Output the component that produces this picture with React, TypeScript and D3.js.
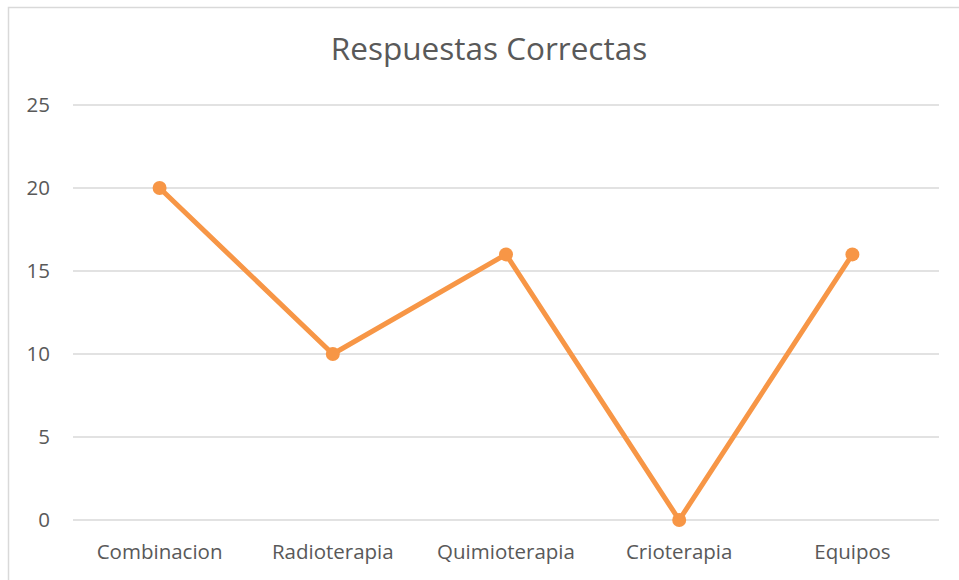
import React from "react";
import * as d3 from "d3";

const categories = ["Combinacion", "Radioterapia", "Quimioterapia", "Crioterapia", "Equipos"];
const values = [20, 10, 16, 0, 16];
const yTicks = [0, 5, 10, 15, 20, 25];
const title = "Respuestas Correctas";

export default function App() {
  const W = 959, H = 580;
  const left = 73, right = 939, top = 105, bottom = 520;
  const x = d3.scaleBand<string>().domain(categories).range([left, right]);
  const y = d3.scaleLinear().domain([0, 25]).range([bottom, top]);
  const line = d3.line<number>()
    .x((_, i) => (x(categories[i]) as number) + x.bandwidth() / 2)
    .y((d) => y(d));
  const font = "'Open Sans', sans-serif";
  return (
    <svg width={W} height={H} style={{ position: "absolute", left: 0, top: 0 }} fontFamily={font}>
      <rect x={0} y={0} width={W} height={H} fill="#fff" />
      <rect x={8.5} y={7.5} width={W + 20} height={H + 20} fill="#fff" stroke="#d9d9d9" strokeWidth={1.5} />
      <text x={489} y={60} textAnchor="middle" fontSize={31.5} fill="#595959">{title}</text>
      {yTicks.map((t) => (
        <g key={t}>
          <line x1={left} x2={right} y1={y(t)} y2={y(t)} stroke="#d9d9d9" strokeWidth={1.5} />
          <text x={50} y={y(t) + 7} textAnchor="end" fontSize={20.5} fill="#595959">{t}</text>
        </g>
      ))}
      {categories.map((c) => (
        <text key={c} x={(x(c) as number) + x.bandwidth() / 2} y={559} textAnchor="middle" fontSize={20.5} fill="#595959">{c}</text>
      ))}
      <path d={line(values) || ""} fill="none" stroke="#F79646" strokeWidth={5} strokeLinejoin="round" strokeLinecap="round" />
      {values.map((v, i) => (
        <circle key={i} cx={(x(categories[i]) as number) + x.bandwidth() / 2} cy={y(v)} r={7} fill="#F79646" />
      ))}
    </svg>
  );
}
